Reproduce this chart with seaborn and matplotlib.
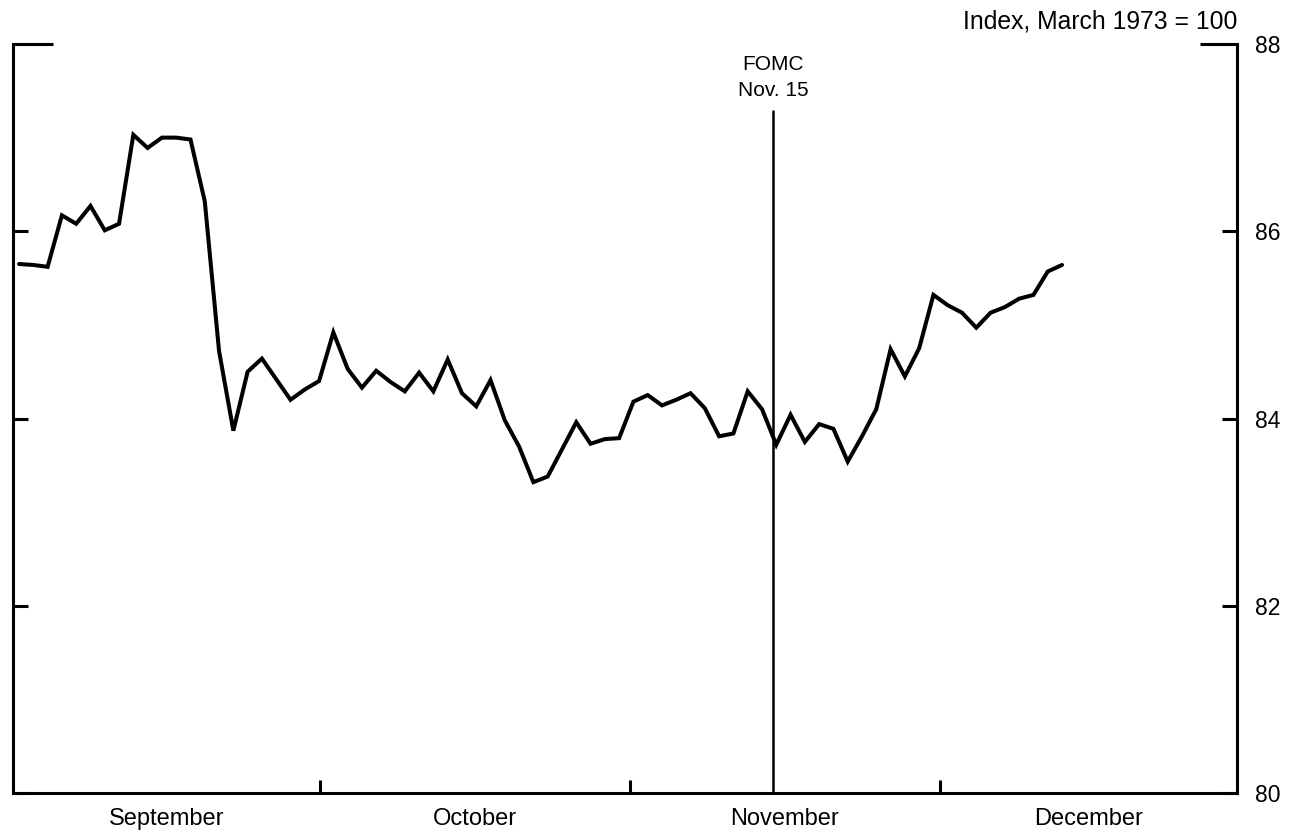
import numpy as np
import pandas as pd
import matplotlib
matplotlib.use("Agg")
import matplotlib.pyplot as plt
import seaborn as sns

# Daily index values (Index, March 1973 = 100), one per trading day, Sept.-mid Dec.
index_values = [
    85.65, 85.64, 85.62, 86.17, 86.08, 86.27, 86.01, 86.08, 87.03, 86.89,
    87.00, 87.00, 86.98, 86.32, 84.72, 83.87, 84.50, 84.64, 84.42, 84.20,
    84.31, 84.40, 84.92, 84.53, 84.33, 84.51, 84.39, 84.29, 84.49, 84.29,
    84.63, 84.27, 84.13, 84.41, 83.98, 83.70, 83.32, 83.38, 83.67, 83.96,
    83.73, 83.78, 83.79, 84.18, 84.25, 84.14, 84.20, 84.27, 84.11, 83.81,
    83.84, 84.29, 84.10, 83.72, 84.04, 83.75, 83.94, 83.89, 83.54, 83.81,
    84.10, 84.74, 84.45, 84.75, 85.32, 85.21, 85.13, 84.97, 85.13, 85.19,
    85.28, 85.32, 85.57, 85.64,
]
trading_day = list(range(len(index_values)))

# Month boundaries on the trading-day scale (first entry = axis start, last = axis end)
month_edges = [-0.42, 21.06, 42.76, 64.45, 85.24]
month_names = ["September", "October", "November", "December"]

y_ticks = [80, 82, 84, 86, 88]
fomc_day = 52.8
fomc_label = "FOMC\nNov. 15"
units_label = "Index, March 1973 = 100"

sns.set_theme(style="white")
plt.rcParams["font.family"] = ["Liberation Sans", "DejaVu Sans"]

df = pd.DataFrame({"day": trading_day, "index": index_values})

fig = plt.figure(figsize=(12.91, 8.35), dpi=100)
ax = fig.add_axes([0.0101, 0.0503, 0.948, 0.897])

sns.lineplot(data=df, x="day", y="index", ax=ax, color="black",
             linewidth=2.9, solid_joinstyle="miter")

# FOMC meeting marker
ax.vlines(fomc_day, 80, 87.3, color="black", linewidth=1.8)
ax.text(fomc_day, 87.4, fomc_label, ha="center", va="bottom",
        fontsize=15, linespacing=1.45, color="black")

ax.set_xlim(month_edges[0], month_edges[-1])
ax.set_ylim(80, 88)

for side in ["left", "right", "bottom"]:
    ax.spines[side].set_visible(True)
    ax.spines[side].set_color("black")
    ax.spines[side].set_linewidth(2.2)
ax.spines["top"].set_visible(False)

# y axis: inward ticks on both sides, labels on the right only
ax.set_yticks(y_ticks)
ax.set_yticklabels([str(v) for v in y_ticks])
ax.tick_params(axis="y", which="major", direction="in", length=10.5, width=2.2,
               left=True, right=True, labelleft=False, labelright=True,
               labelsize=16.5, pad=13, colors="black")
top_tick = ax.yaxis.get_major_ticks()[-1]
top_tick.tick1line.set_markersize(29)
top_tick.tick2line.set_markersize(27)

# x axis: month boundary ticks, month names centred between them
mids = [(a + b) / 2 for a, b in zip(month_edges[:-1], month_edges[1:])]
ax.set_xticks(month_edges[1:-1])
ax.set_xticklabels([])
ax.set_xticks(mids, minor=True)
ax.set_xticklabels(month_names, minor=True)
ax.tick_params(axis="x", which="major", direction="in", length=9.5, width=2.2,
               bottom=True, colors="black")
ax.tick_params(axis="x", which="minor", length=0, labelsize=17, pad=11,
               colors="black")

ax.set_xlabel("")
ax.set_ylabel("")

fig.text(1237 / 1291, 1 - 21 / 835, units_label, ha="right", va="center",
         fontsize=17.8, color="black")

fig.savefig("out.png", dpi=100, facecolor="white")
